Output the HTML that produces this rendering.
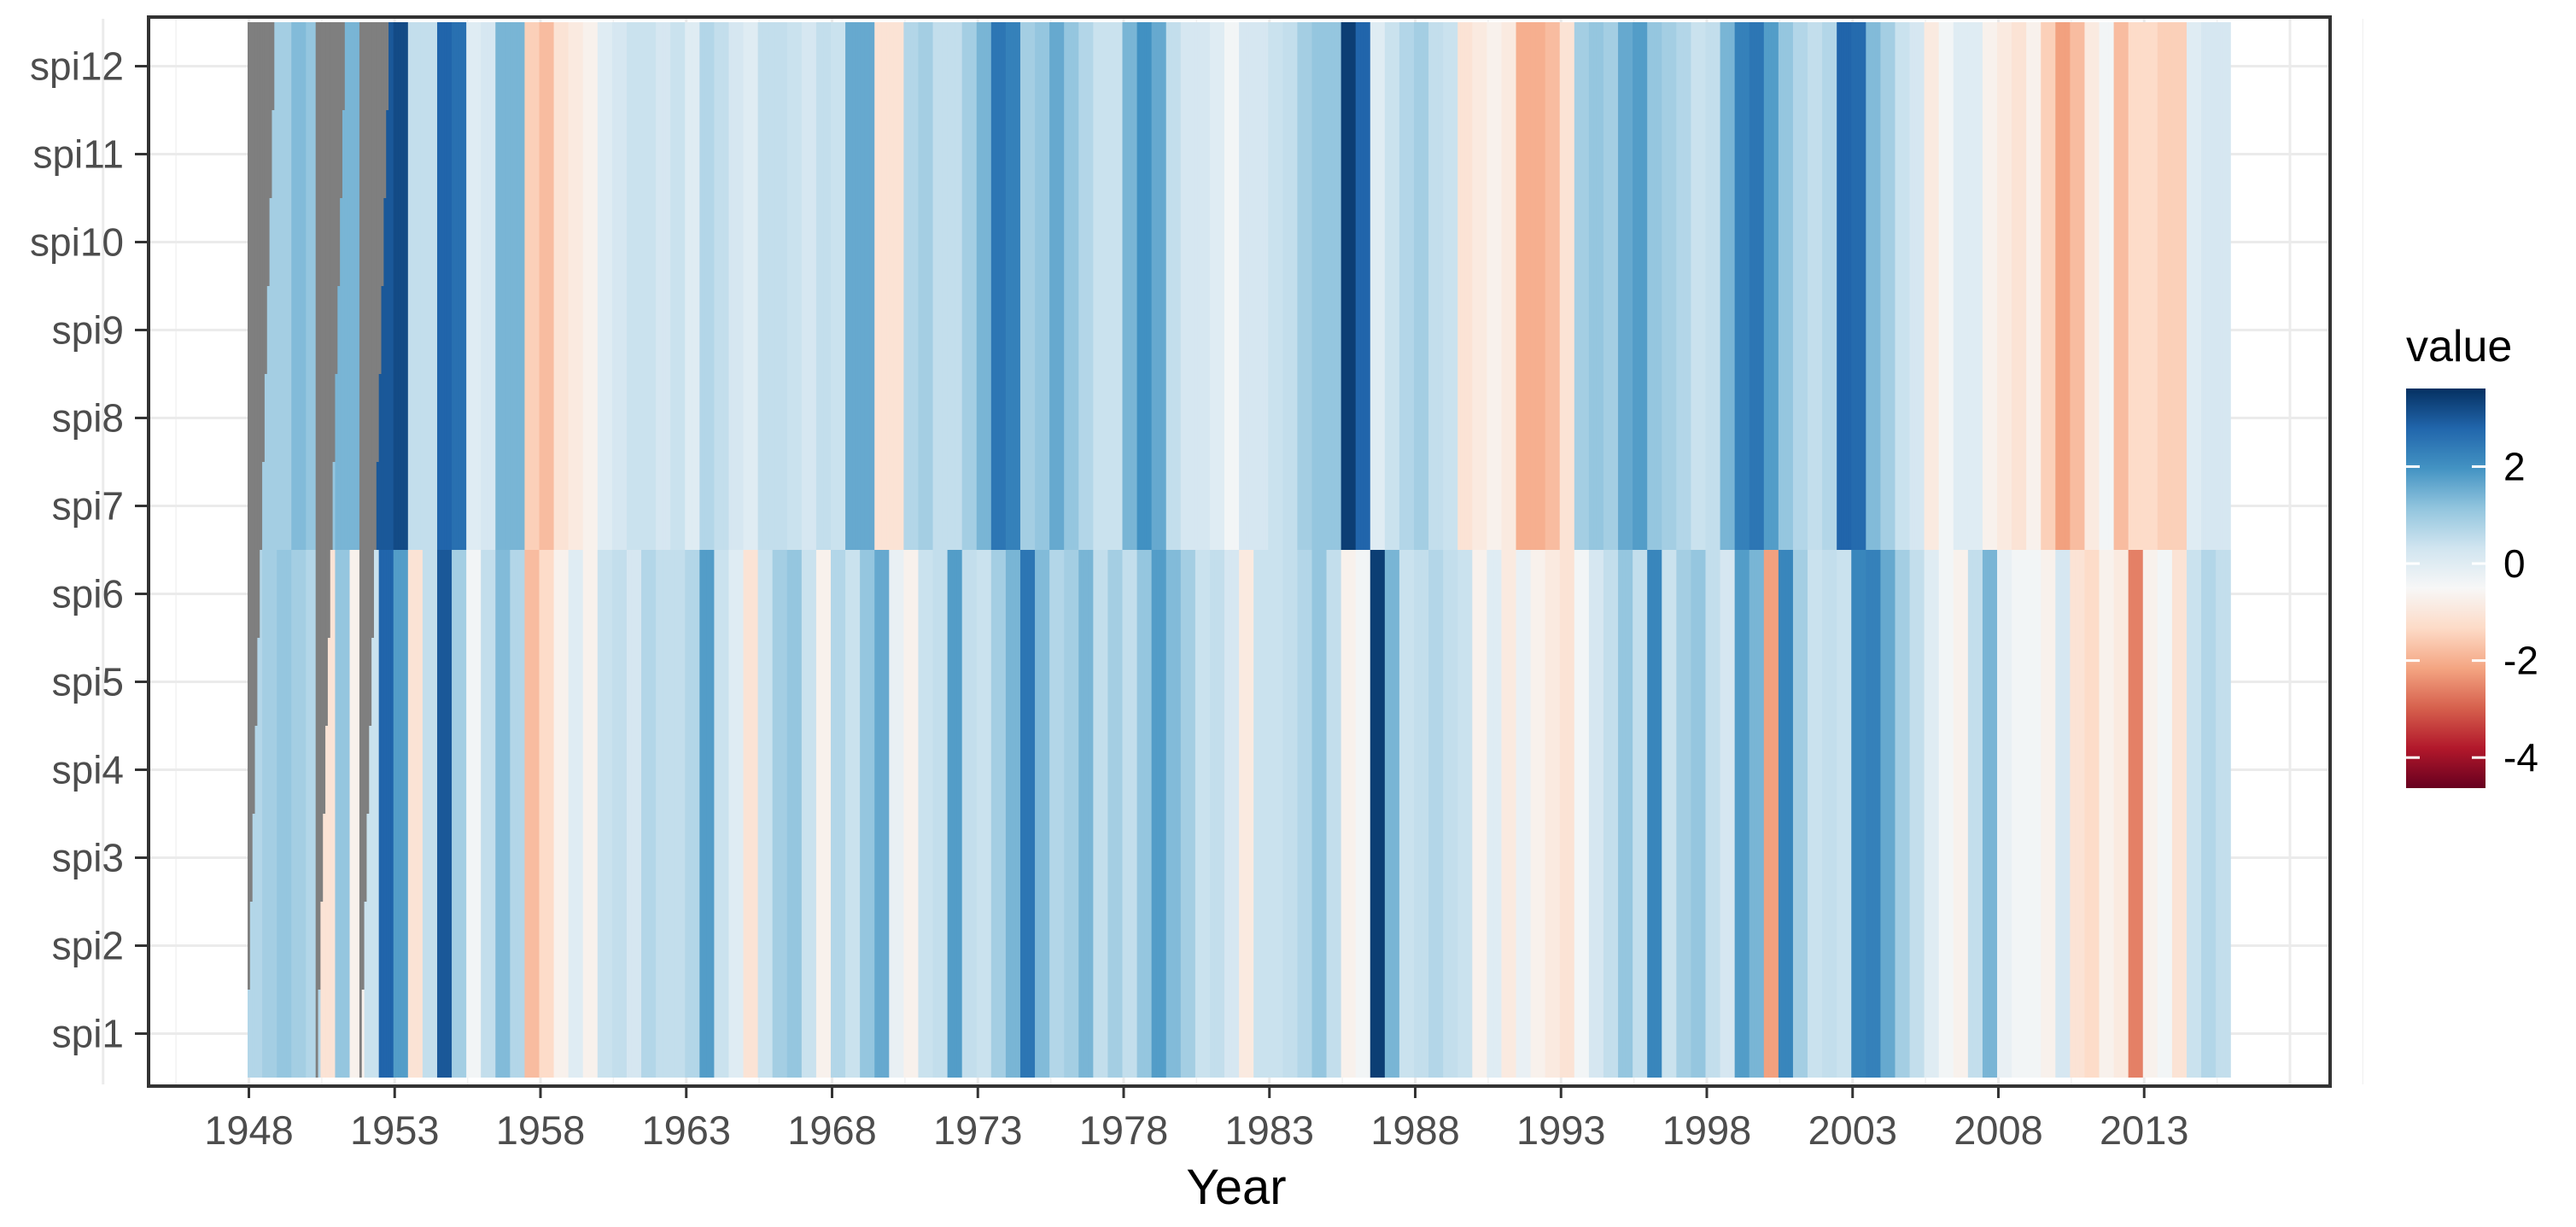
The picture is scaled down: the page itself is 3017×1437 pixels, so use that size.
<!DOCTYPE html>
<html><head><meta charset="utf-8"><title>SPI heatmap</title>
<style>
html,body{margin:0;padding:0;background:#fff;}
svg{display:block;}
text{font-family:"Liberation Sans",Arial,sans-serif;}
</style></head>
<body>
<svg id="chart" width="3017" height="1437" viewBox="0 0 3017 1437" xmlns="http://www.w3.org/2000/svg">
  <rect x="0" y="0" width="3017" height="1437" fill="#ffffff"/>
  <g id="grid"></g>
  <g id="tiles"></g>
  <rect x="174" y="20" width="2555" height="1252" fill="none" stroke="#333333" stroke-width="4"/>
  <g id="yaxis"></g>
  <g id="xaxis"></g>
  <text x="1448" y="1410" font-size="58" text-anchor="middle" fill="#000">Year</text>
  <g id="legend">
    <text x="2818" y="423" font-size="52" fill="#000">value</text>
    <defs>
      <linearGradient id="lg" x1="0" y1="1" x2="0" y2="0"></linearGradient>
    </defs>
    <rect x="2818" y="455" width="93" height="468" fill="url(#lg)"/>
  </g>
</svg>
<script>
// ---- data ----
const rowLabels = ["spi1","spi2","spi3","spi4","spi5","spi6","spi7","spi8","spi9","spi10","spi11","spi12"];
const startYear = 1948;
const endYear = 2015;
const xTickYears = [1948,1953,1958,1963,1968,1973,1978,1983,1988,1993,1998,2003,2008,2013];
const legendTicks = [2,0,-2,-4];
const valueMin = -4.63;
const valueMax = 3.61;
const missingMonths = [28,46];
// half-year SPI values (H1,H2 per year), long accumulation scales (spi7-spi12)
const longScale = [
 0.9,0.9, 0.9,1.3, 1.1,1.1, 1.4,1.4, 3.0,3.0, 3.2,0.5, 0.5,2.8, 2.6,0.0, 0.2,1.4, 1.4,-1.5,
 -1.8,-1.1, -0.9,-0.7, 0.0,0.2, 0.4,0.4, 0.2,0.4, 0.0,0.7, 0.5,0.2, 0.0,0.5, 0.5,0.4, 0.2,0.5,
 0.4,1.6, 1.6,-1.1, -1.1,0.7, 0.9,0.5, 0.5,0.9, 1.4,2.5, 2.3,0.9, 1.1,1.6, 1.1,0.7, 0.4,0.4,
 1.4,2.0, 1.6,0.5, 0.2,0.2, 0.0,-0.4, 0.2,0.2, 0.4,0.5, 0.9,1.1, 1.1,3.4, 2.8,0.0, 0.4,0.7,
 0.9,0.5, 0.4,-1.1, -0.9,-0.7, -0.9,-2.0, -2.0,-1.8, -1.1,0.9, 1.1,0.9, 1.6,1.8, 1.1,0.9, 0.7,0.4,
 0.5,1.4, 2.3,2.5, 1.8,1.1, 0.7,0.5, 0.7,2.8, 2.7,1.3, 0.9,0.4, 0.2,-0.9, -0.4,0.0, 0.0,-0.7,
 -0.9,-1.1, -0.7,-1.5, -2.2,-1.8, -0.9,-0.4, -1.8,-1.3, -1.3,-1.5, -1.5,0.0, 0.2,0.2
];
// half-year SPI values, short accumulation scales (spi1-spi6)
const shortScale = [
 0.7,0.9, 1.1,0.9, 0.7,-1.1, 1.1,-0.7, 0.4,2.8, 1.8,-1.1, 0.5,3.0, 0.9,-0.4, 0.5,1.3, 0.7,-1.8,
 -1.3,-0.7, 0.0,-0.7, 0.4,0.5, 0.2,0.7, 0.5,0.5, 0.7,1.8, 0.4,0.0, -1.1,0.4, 0.9,1.1, 0.4,-0.7,
 0.7,0.4, 1.1,1.6, -0.2,-0.7, 0.4,0.5, 1.8,0.5, 0.4,0.9, 1.4,2.5, 1.3,0.7, 0.9,1.4, 0.5,0.9,
 0.5,1.1, 1.8,1.3, 0.9,0.4, 0.5,0.2, -0.9,0.4, 0.4,0.5, 0.7,1.1, 0.5,-0.7, -0.4,3.4, 1.4,0.4,
 0.5,0.7, 0.5,0.4, -0.7,0.0, -0.9,-0.2, -0.7,-0.9, -1.1,-0.4, 0.2,0.5, 1.1,0.5, 2.2,0.4, 0.9,1.1,
 0.5,0.2, 1.8,1.4, -2.2,2.2, 0.9,0.4, 0.5,0.4, 2.2,2.3, 1.6,0.9, 0.5,0.0, -0.4,-0.7, 0.5,1.4,
 -0.2,-0.4, -0.4,-0.7, 0.2,-1.1, -1.3,-0.7, -0.9,-2.6, -0.7,-0.4, -1.1,0.4, 0.7,0.5, -0.7,0.4
];
const palette = ["#67001f","#b2182b","#d6604d","#f4a582","#fddbc7","#f7f7f7","#d1e5f0","#92c5de","#4393c3","#2166ac","#053061"];

// ---- scales ----
const NS = "http://www.w3.org/2000/svg";
const X0 = 291.5, PX_PER_YEAR = 34.15;
const xYear = y => X0 + (y - startYear) * PX_PER_YEAR;
const xMonth = m => 290 + m * PX_PER_YEAR / 12;
const ROW_H = 103, DATA_BOTTOM = 1262;
const yRowTop = r => DATA_BOTTOM - (r + 1) * ROW_H;
const yRowCenter = r => yRowTop(r) + ROW_H / 2;
const yLegend = v => 455 + (valueMax - v) / (valueMax - valueMin) * 468;

function hex(c){return [parseInt(c.slice(1,3),16),parseInt(c.slice(3,5),16),parseInt(c.slice(5,7),16)];}
function colorOf(v){
  let t = (v - valueMin) / (valueMax - valueMin);
  t = Math.max(0, Math.min(1, t)) * (palette.length - 1);
  const i = Math.min(palette.length - 2, Math.floor(t)), f = t - i;
  const a = hex(palette[i]), b = hex(palette[i+1]);
  return "rgb(" + a.map((c,k)=>Math.round(c + (b[k]-c)*f)).join(",") + ")";
}
function mk(tag, attrs, parent){
  const el = document.createElementNS(NS, tag);
  for (const k in attrs) el.setAttribute(k, attrs[k]);
  parent.appendChild(el);
  return el;
}

// ---- grid ----
const grid = document.getElementById("grid");
for (let y = 1943; y <= 2018; y += 5) {
  const gl = mk("line", {x1:xYear(y), x2:xYear(y), y1:22, y2:1270, stroke:"#ebebeb", "stroke-width":3}, grid);
  
  
  const gm = mk("line", {x1:xYear(y+2.5), x2:xYear(y+2.5), y1:22, y2:1270, stroke:"#f2f2f2", "stroke-width":1.5}, grid);
  
  
}
rowLabels.forEach((lab, r) => {
  const gl = mk("line", {x1:176, x2:2727, y1:yRowCenter(r), y2:yRowCenter(r), stroke:"#ebebeb", "stroke-width":3}, grid);
  
  
});

// ---- tiles ----
const tiles = document.getElementById("tiles");
const nMonths = (endYear - startYear + 1) * 12;
const mw = PX_PER_YEAR / 12;
rowLabels.forEach((lab, r) => {
  const k = r + 1;
  const series = k >= 7 ? longScale : shortScale;
  const g = mk("g", {}, tiles);
  
  
  for (let m = 0; m < nMonths; m++) {
    let missing = m < k - 1;
    for (const mm of missingMonths) if (m >= mm && m <= mm + k - 1) missing = true;
    const v = series[Math.floor(m / 6)];
    const fill = missing ? "#7f7f7f" : colorOf(v);
    const c = mk("rect", {x:xMonth(m).toFixed(2), y:yRowTop(r), width:(mw+0.6).toFixed(2), height:ROW_H, fill:fill}, g);
    
    
  }
});

// ---- y axis ----
const yaxis = document.getElementById("yaxis");
rowLabels.forEach((lab, r) => {
  const t = mk("line", {x1:158, x2:174, y1:yRowCenter(r), y2:yRowCenter(r), stroke:"#333", "stroke-width":3}, yaxis);
  
  
  const tx = mk("text", {x:145, y:yRowCenter(r)+16, "font-size":46, "text-anchor":"end", fill:"#4d4d4d"}, yaxis);
  tx.textContent = lab;
  
  
});

// ---- x axis ----
const xaxis = document.getElementById("xaxis");
xTickYears.forEach(y => {
  const t = mk("line", {x1:xYear(y), x2:xYear(y), y1:1272, y2:1286, stroke:"#333", "stroke-width":3}, xaxis);
  
  
  const tx = mk("text", {x:xYear(y), y:1340, "font-size":47, "text-anchor":"middle", fill:"#4d4d4d"}, xaxis);
  tx.textContent = String(y);
  
  
});

// ---- legend ----
const lg = document.getElementById("lg");
palette.forEach((c, i) => {
  mk("stop", {offset:(i/(palette.length-1)*100)+"%", "stop-color":c}, lg);
});
const legend = document.getElementById("legend");
legendTicks.forEach(v => {
  const y = yLegend(v);
  const a = mk("line", {x1:2818, x2:2834, y1:y, y2:y, stroke:"#fff", "stroke-width":3}, legend);
  
  
  const b = mk("line", {x1:2895, x2:2911, y1:y, y2:y, stroke:"#fff", "stroke-width":3}, legend);
  
  
  const tx = mk("text", {x:2932, y:y+16, "font-size":46, fill:"#000"}, legend);
  tx.textContent = String(v);
  
  
});
</script>
</body></html>
